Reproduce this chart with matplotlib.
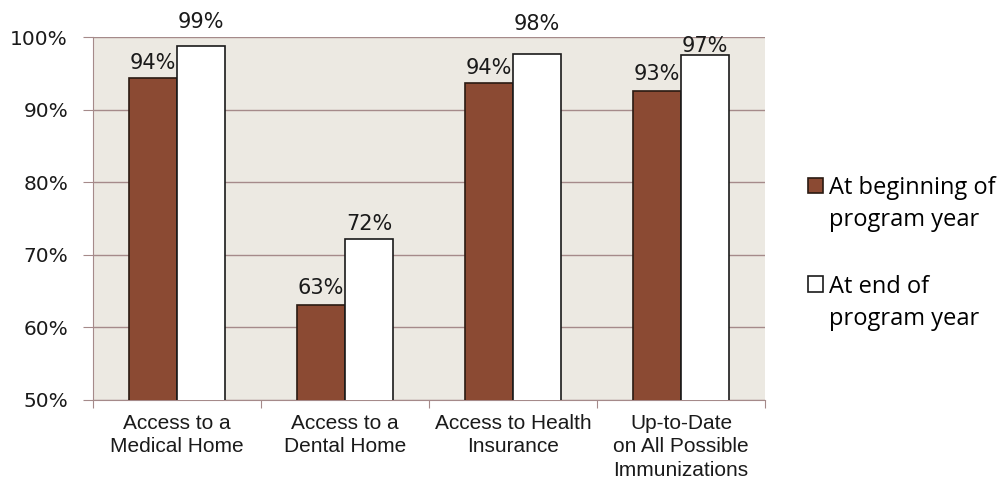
import numpy as np
import matplotlib.pyplot as plt
from matplotlib.ticker import FixedLocator, NullFormatter

categories = ["Access to a\nMedical Home", "Access to a\nDental Home",
              "Access to Health\nInsurance", "Up-to-Date\non All Possible\nImmunizations"]
beginning = [94.4, 63.1, 93.7, 92.6]
end = [98.7, 72.2, 97.7, 97.5]
beginning_labels = ["94%", "63%", "94%", "93%"]
end_labels = ["99%", "72%", "98%", "97%"]
series_names = ["At beginning of\nprogram year", "At end of\nprogram year"]

# label gaps above the bars (points), Excel nudged some of them
beginning_gap = [6.5, 8, 6, 8]
end_gap = [13, 6.5, 17, 2.2]

brown = "#8B4A33"
grid_col = "#A58A8A"
bg = "#ECE9E2"
arial = "Liberation Sans"
label_font = "DejaVu Sans"

fig = plt.figure(figsize=(9.98, 4.8), dpi=100)
ax = fig.add_axes([0.0932, 0.1667, 0.6733, 0.7562])
ax.set_facecolor(bg)

x = np.arange(len(categories))
w = 0.286
b1 = ax.bar(x - w / 2, beginning, w, color=brown, edgecolor="#2a1a12", linewidth=1.2,
            label=series_names[0], zorder=3)
b2 = ax.bar(x + w / 2, end, w, color="white", edgecolor="#1a1a1a", linewidth=1.2,
            label=series_names[1], zorder=3)

for bars, labels, gaps in [(b1, beginning_labels, beginning_gap), (b2, end_labels, end_gap)]:
    for rect, lab, g in zip(bars, labels, gaps):
        ax.annotate(lab, (rect.get_x() + rect.get_width() / 2, rect.get_height()),
                    xytext=(0, g), textcoords="offset points", ha="center", va="baseline",
                    fontsize=15, family=label_font, color="#1a1a1a", annotation_clip=False)

ax.set_ylim(50, 100)
ax.set_xlim(-0.5, 3.5)
yt = np.arange(50, 101, 10)
ax.set_yticks(yt)
ax.set_yticklabels([f"{v}%" for v in yt], fontsize=14.5, family=label_font, color="#1a1a1a")
ax.yaxis.grid(True, color=grid_col, linewidth=1.0, zorder=0)
ax.tick_params(axis="y", length=7, color=grid_col, pad=11)

ax.xaxis.set_major_locator(FixedLocator(np.arange(-0.5, 3.6, 1)))
ax.xaxis.set_major_formatter(NullFormatter())
ax.set_xticks(x, minor=True)
ax.set_xticklabels(categories, minor=True, fontsize=15, family=arial, color="#1a1a1a",
                   linespacing=1.3)
ax.tick_params(axis="x", which="major", length=6, color=grid_col)
ax.tick_params(axis="x", which="minor", length=0, pad=10)

for side in ["top", "right"]:
    ax.spines[side].set_visible(False)
for side in ["left", "bottom"]:
    ax.spines[side].set_color(grid_col)

leg = ax.legend(loc="center left", bbox_to_anchor=(0.8096, 0.472), bbox_transform=fig.transFigure,
                frameon=False, prop={"family": "Open Sans", "size": 17},
                handlelength=0.62, handleheight=0.62, handletextpad=0.28,
                labelspacing=1.8, borderpad=0, borderaxespad=0)
for t in leg.get_texts():
    t.set_linespacing(1.44)
# move the square up to the first line of each label
for h in leg.legend_handles:
    h.set_y(h.get_y() + 14)

fig.savefig("out.png", dpi=100)
